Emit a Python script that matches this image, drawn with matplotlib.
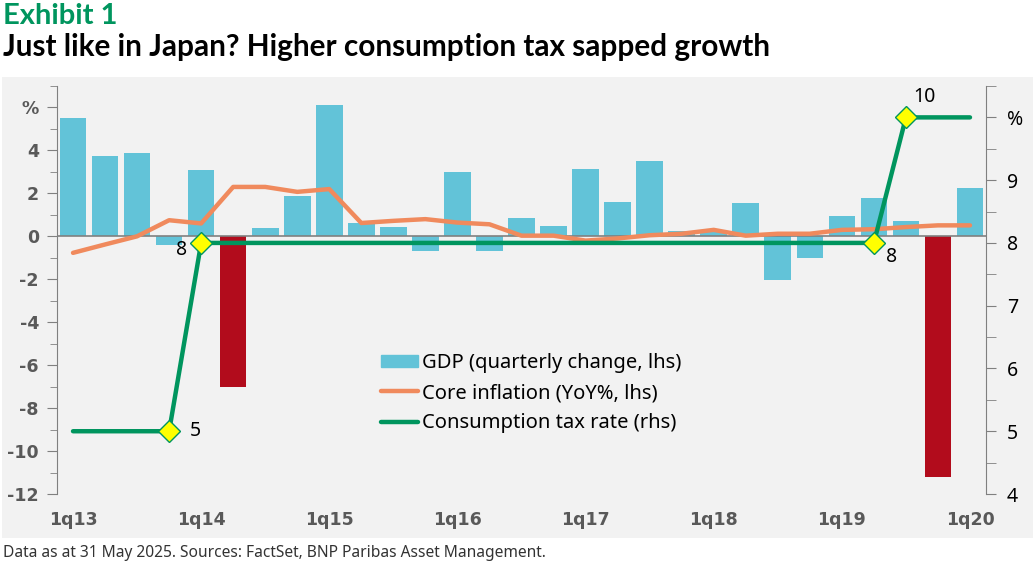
import matplotlib.pyplot as plt
import numpy as np
from matplotlib.patches import Rectangle
from matplotlib.lines import Line2D
from matplotlib.patches import Patch

# quarters shown on the x axis
quarters = ['1q13', '2q13', '3q13', '4q13', '1q14', '2q14', '3q14', '4q14',
            '1q15', '2q15', '3q15', '4q15', '1q16', '2q16', '3q16', '4q16',
            '1q17', '2q17', '3q17', '4q17', '1q18', '2q18', '3q18', '4q18',
            '1q19', '2q19', '3q19', '4q19', '1q20']

# GDP, quarterly change (lhs)
gdp = [5.5, 3.75, 3.9, -0.4, 3.1, -7.0, 0.4, 1.9,
       6.1, 0.6, 0.45, -0.7, 3.0, -0.7, 0.85, 0.5,
       3.15, 1.6, 3.5, 0.25, 0.2, 1.55, -2.05, -1.0,
       0.95, 1.8, 0.7, -11.2, 2.25]

# core inflation YoY % (lhs)
core_infl = [-0.77, -0.38, 0.0, 0.75, 0.6, 2.3, 2.3, 2.07,
             2.2, 0.62, 0.72, 0.8, 0.64, 0.56, 0.03, 0.03,
             -0.2, -0.1, 0.05, 0.12, 0.3, 0.03, 0.12, 0.12,
             0.3, 0.33, 0.43, 0.51, 0.51]

# consumption tax rate (rhs)
tax_rate = [5, 5, 5, 5, 8, 8, 8, 8,
            8, 8, 8, 8, 8, 8, 8, 8,
            8, 8, 8, 8, 8, 8, 8, 8,
            8, 8, 10, 10, 10]

# quarters right after a tax hike (red bars)
hike_quarters = ['2q14', '4q19']
# marked points on the tax line and where their labels go (offset in points)
marked = ['4q13', '1q14', '2q19', '3q19']
mark_offsets = [(19, 0), (-14, -5), (13, -10), (13, 15)]

left_ticks = [-12, -10, -8, -6, -4, -2, 0, 2, 4, 6]
left_labels = ['-12', '-10', '-8', '-6', '-4', '-2', '0', '2', '4', '%']
right_ticks = [4, 5, 6, 7, 8, 9, 10]
right_labels = ['4', '5', '6', '7', '8', '9', '%']

BLUE = '#62C3D8'
RED = '#B20C1C'
ORANGE = '#F08A5D'
GREEN = '#00955E'
GREY = '#595959'

x = np.arange(len(quarters))

fig = plt.figure(figsize=(10.34, 5.67), dpi=100)
fig.patches.append(Rectangle((2 / 1034, 1 - 538 / 567), 1031 / 1034, 461 / 567,
                             transform=fig.transFigure, facecolor='#F2F2F2',
                             edgecolor='none', zorder=-10))

ax = fig.add_axes([57 / 1034, 1 - 494 / 567, (986 - 57) / 1034, (494 - 86) / 567])
ax.set_facecolor('none')

bar_colors = [RED if q in hike_quarters else BLUE for q in quarters]
ax.bar(x, gdp, width=0.83, color=bar_colors, zorder=2)
ax.axhline(0, color='#808080', lw=1.2, zorder=3)
ax.plot(x, core_infl, color=ORANGE, lw=3.2, solid_capstyle='round', zorder=4)

ax.set_xlim(-0.5, 28.5)
ax.set_ylim(-12, 7)
ax.set_yticks(left_ticks)
ax.set_yticklabels(left_labels)
ax.set_yticks(np.arange(-11, 8, 2), minor=True)
ax.set_xticks(x[::4])
ax.set_xticklabels(quarters[::4])
ax.tick_params(axis='x', length=0, pad=12, labelsize=12.5, labelcolor=GREY)
for lab in ax.get_xticklabels() + ax.get_yticklabels():
    lab.set_fontweight('bold')
ax.tick_params(axis='y', which='major', length=7, color='#808080',
               labelsize=12.5, labelcolor=GREY, pad=6)
ax.tick_params(axis='y', which='minor', length=5, color='#808080')
for s in ['top', 'right', 'bottom']:
    ax.spines[s].set_visible(False)
ax.spines['left'].set_color('#808080')

ax2 = ax.twinx()
ax2.set_ylim(4, 10.5)
ax2.plot(x, tax_rate, color=GREEN, lw=3.2, solid_capstyle='round', zorder=5)
idx = [quarters.index(q) for q in marked]
ax2.plot(x[idx], [tax_rate[i] for i in idx], ls='none', marker='D', ms=11,
         mfc='#FFFF00', mec=GREEN, mew=1, zorder=6)
for i, off in zip(idx, mark_offsets):
    ax2.annotate(str(tax_rate[i]), (x[i], tax_rate[i]), xytext=off,
                 textcoords='offset points', ha='center', va='center',
                 fontsize=14, family='Noto Sans', color='black')
ax2.set_yticks(right_ticks)
ax2.set_yticklabels(right_labels, family='Noto Sans')
ax2.set_yticks(np.arange(4.5, 10.6, 1), minor=True)
ax2.tick_params(axis='y', which='major', length=7, color='#808080',
                labelsize=14, labelcolor='black', pad=8)
ax2.tick_params(axis='y', which='minor', length=7, color='#808080')
for s in ['top', 'left', 'bottom']:
    ax2.spines[s].set_visible(False)
ax2.spines['right'].set_color('#808080')

handles = [Patch(color=BLUE),
           Line2D([0], [0], color=ORANGE, lw=3.2, solid_capstyle='round'),
           Line2D([0], [0], color=GREEN, lw=3.2, solid_capstyle='round')]
labels = ['GDP (quarterly change, lhs)', 'Core inflation (YoY%, lhs)',
          'Consumption tax rate (rhs)']
fig.legend(handles, labels, loc='upper left', bbox_to_anchor=(363 / 1034, 1 - 335 / 567),
           frameon=False, prop={'family': 'Noto Sans', 'size': 14.5},
           handlelength=1.85, handleheight=0.6, handletextpad=0.2, labelspacing=0.5)

fig.text(3 / 1034, 1 - 3 / 567, 'Exhibit 1', color=GREEN, fontsize=21,
         fontweight='bold', family='Lato', va='top', ha='left')
fig.text(3 / 1034, 1 - 33 / 567, 'Just like in Japan? Higher consumption tax sapped growth',
         color='black', fontsize=21.4, fontweight='bold', family='Lato', va='top', ha='left')
fig.text(3 / 1034, 1 - 553 / 567,
         'Data as at 31 May 2025. Sources: FactSet, BNP Paribas Asset Management.',
         color='#333333', fontsize=11.2, family='Noto Sans', va='center', ha='left')

fig.savefig('out.png', dpi=100)
